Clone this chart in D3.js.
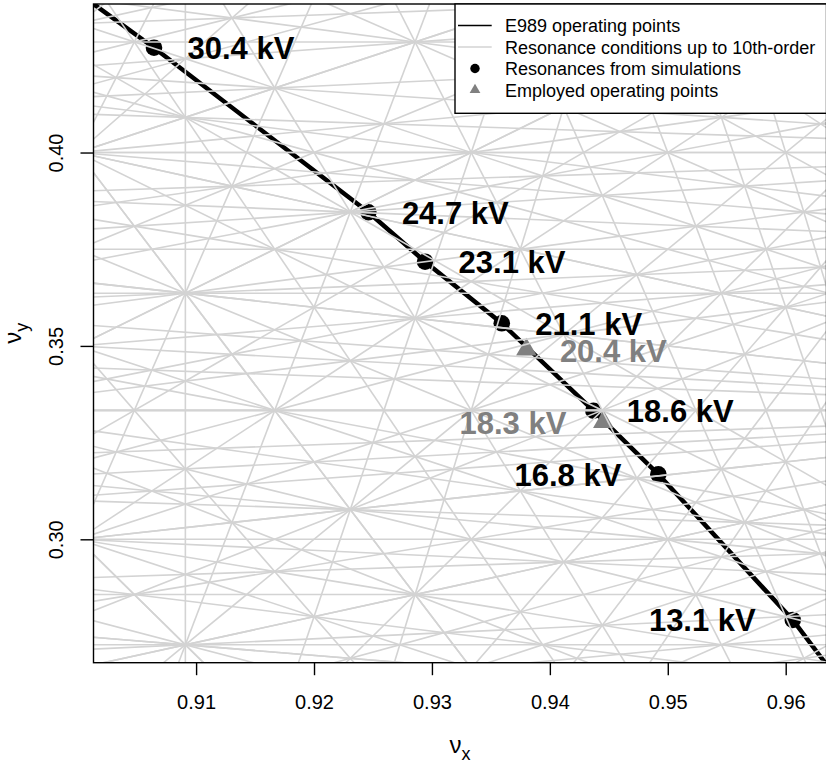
<!DOCTYPE html>
<html>
<head>
<meta charset="utf-8" />
<title>E989 tune diagram</title>
<script src="https://d3js.org/d3.v7.min.js"></script>
<style>
  body { margin: 0; background: #fff; }
  svg { display: block; font-family: "Liberation Sans", Arial, Helvetica, sans-serif; }
</style>
</head>
<body>
<div id="holder"></div>
<script>
// Data
// operating line (nu_x, nu_y)
const lineNx = [0.90130, 0.90643, 0.92461, 0.92942, 0.93592, 0.94369, 0.94920, 0.96060, 0.96334];
const lineNy = [0.43840, 0.42710, 0.38454, 0.37177, 0.35585, 0.33325, 0.31681, 0.27914, 0.26810];

// resonances from simulations
const simKV = ["30.4", "24.7", "23.1", "21.1", "18.6", "16.8", "13.1"];
const simNx = [0.90643, 0.92461, 0.92942, 0.93592, 0.94369, 0.94920, 0.96060];
const simNy = [0.42710, 0.38454, 0.37177, 0.35585, 0.33325, 0.31681, 0.27914];

// employed operating points
const opKV = ["20.4", "18.3"];
const opNx = [0.93801, 0.94454];
const opNy = [0.34879, 0.33007];

// resonance lines m*nx + n*ny = p, |m|+|n| up to this
const maxResSum = 11;

const xTicks = [0.91, 0.92, 0.93, 0.94, 0.95, 0.96];
const yTicks = [0.30, 0.35, 0.40];

const legendLabels = ["E989 operating points", "Resonance conditions up to 10th-order",
                      "Resonances from simulations", "Employed operating points"];

//Variables
const w = 826, h = 763;
const pLeft = 93.5, pRight = 826.5, pTop = 4, pBottom = 662.7;
const black = "#000", light = "#d3d3d3", grey = "#808080";

const svg = d3.select("#holder").append("svg")
  .attr("width", w).attr("height", h);

//Scales
const xScale = d3.scaleLinear().domain([0.90130, 0.96346]).range([pLeft, pRight]);
const yScale = d3.scaleLinear().domain([0.26810, 0.43840]).range([pBottom, pTop]);
const xd = xScale.domain(), yd = yScale.domain();

svg.append("clipPath").attr("id", "plotclip")
  .append("rect")
  .attr("x", pLeft).attr("y", pTop)
  .attr("width", pRight - pLeft).attr("height", pBottom - pTop);

const plot = svg.append("g").attr("clip-path", "url(#plotclip)");

//Operating line
const opLine = d3.line()
  .x(d => xScale(d[0]))
  .y(d => yScale(d[1]));
plot.append("path")
  .datum(lineNx.map((v, i) => [v, lineNy[i]]))
  .attr("d", opLine)
  .attr("fill", "none")
  .attr("stroke", black)
  .attr("stroke-width", 4.5);

//Simulated resonances
plot.selectAll("circle.sim")
  .data(simNx.map((v, i) => ({ x: v, y: simNy[i] })))
  .enter().append("circle")
  .attr("class", "sim")
  .attr("cx", d => xScale(d.x))
  .attr("cy", d => yScale(d.y))
  .attr("r", 8.3)
  .attr("fill", black);

//Employed points (filled triangles)
const tri = d3.symbol().type(d3.symbolTriangle).size(185);
plot.selectAll("path.op")
  .data(opNx.map((v, i) => ({ x: v, y: opNy[i] })))
  .enter().append("path")
  .attr("class", "op")
  .attr("d", tri)
  .attr("transform", d => "translate(" + xScale(d.x) + "," + (yScale(d.y) - 1) + ")")
  .attr("fill", grey);

//Resonance lines over the marks
const res = [];
for (let m = -maxResSum; m <= maxResSum; m++) {
  for (let n = 0; n <= maxResSum; n++) {
    if (Math.abs(m) + n > maxResSum || (m === 0 && n === 0)) continue;
    if (n === 0 && m < 0) continue;
    const corners = [m * xd[0] + n * yd[0], m * xd[0] + n * yd[1],
                     m * xd[1] + n * yd[0], m * xd[1] + n * yd[1]];
    const pLo = Math.ceil(d3.min(corners)), pHi = Math.floor(d3.max(corners));
    for (let p = pLo; p <= pHi; p++) res.push({ m: m, n: n, p: p });
  }
}
const pad = 0.02;
plot.selectAll("line.res")
  .data(res)
  .enter().append("line")
  .attr("class", "res")
  .attr("x1", d => d.n === 0 ? xScale(d.p / d.m) : xScale(xd[0] - pad))
  .attr("x2", d => d.n === 0 ? xScale(d.p / d.m) : xScale(xd[1] + pad))
  .attr("y1", d => d.n === 0 ? yScale(yd[0] - pad) : yScale((d.p - d.m * (xd[0] - pad)) / d.n))
  .attr("y2", d => d.n === 0 ? yScale(yd[1] + pad) : yScale((d.p - d.m * (xd[1] + pad)) / d.n))
  .attr("stroke", light)
  .attr("stroke-width", 1.6);

//Labels
const simSide = [1, 1, 1, 1, 1, -1, -1];
const opSide = [1, -1];
function addLabels(kv, nx, ny, side, col) {
  plot.selectAll(null)
    .data(kv)
    .enter().append("text")
    .attr("x", (d, i) => xScale(nx[i]) + (side[i] > 0 ? 33.5 : -37))
    .attr("y", (d, i) => yScale(ny[i]) + 11.3)
    .attr("text-anchor", (d, i) => side[i] > 0 ? "start" : "end")
    .attr("font-size", 31)
    .attr("font-weight", "bold")
    .attr("fill", col)
    .text(d => d + " kV");
}
addLabels(simKV, simNx, simNy, simSide, black);
addLabels(opKV, opNx, opNy, opSide, grey);

//Box
svg.append("rect")
  .attr("x", pLeft).attr("y", pTop)
  .attr("width", pRight - pLeft).attr("height", pBottom - pTop)
  .attr("fill", "none").attr("stroke", black).attr("stroke-width", 1.4);

//Axes
const xAxis = d3.axisBottom(xScale).tickValues(xTicks).tickFormat(d3.format(".2f")).tickSize(12.5);
const gx = svg.append("g")
  .attr("transform", "translate(0," + pBottom + ")")
  .call(xAxis);
gx.select(".domain").remove();
gx.selectAll("line").attr("stroke", black).attr("stroke-width", 1.4);
gx.selectAll("text")
  .attr("y", 46.6).attr("dy", null)
  .attr("font-size", 20).attr("fill", black);
gx.attr("font-family", null);

const yAxis = d3.axisLeft(yScale).tickValues(yTicks).tickFormat(d3.format(".2f")).tickSize(13);
const gy = svg.append("g")
  .attr("transform", "translate(" + pLeft + ",0)")
  .call(yAxis);
gy.select(".domain").remove();
gy.selectAll("line").attr("stroke", black).attr("stroke-width", 1.4);
gy.selectAll("text")
  .attr("x", null).attr("dy", null)
  .attr("transform", "translate(-30.5,0) rotate(-90)")
  .attr("text-anchor", "middle")
  .attr("font-size", 20).attr("fill", black);
gy.attr("font-family", null);

//Axis titles
const xt = svg.append("text")
  .attr("x", (pLeft + pRight) / 2).attr("y", 753)
  .attr("text-anchor", "middle")
  .attr("font-size", 24);
xt.append("tspan").text("ν");
xt.append("tspan").attr("font-size", 18).attr("dy", 7).text("x");

const yt = svg.append("text")
  .attr("transform", "translate(21," + ((pTop + pBottom) / 2) + ") rotate(-90)")
  .attr("text-anchor", "middle")
  .attr("font-size", 24);
yt.append("tspan").text("ν");
yt.append("tspan").attr("font-size", 18).attr("dy", 7).text("y");

//Legend
const lg = svg.append("g");
lg.append("rect")
  .attr("x", 455).attr("y", pTop)
  .attr("width", pRight - 455).attr("height", 113.3 - pTop)
  .attr("fill", "#fff").attr("stroke", black).attr("stroke-width", 1.4);
const rowY = [25.5, 47, 68.5, 90];
lg.append("line").attr("x1", 458).attr("x2", 491.7).attr("y1", rowY[0]).attr("y2", rowY[0])
  .attr("stroke", black).attr("stroke-width", 1.6);
lg.append("line").attr("x1", 458).attr("x2", 491.7).attr("y1", rowY[1]).attr("y2", rowY[1])
  .attr("stroke", light).attr("stroke-width", 1.6);
lg.append("circle").attr("cx", 475).attr("cy", rowY[2]).attr("r", 4.7).attr("fill", black);
lg.append("path").attr("d", d3.symbol().type(d3.symbolTriangle).size(50))
  .attr("transform", "translate(475," + rowY[3] + ")").attr("fill", grey);
lg.selectAll("text.leg")
  .data(legendLabels)
  .enter().append("text")
  .attr("class", "leg")
  .attr("x", 505)
  .attr("y", (d, i) => rowY[i] + 6.5)
  .attr("font-size", 18)
  .attr("fill", black)
  .text(d => d);
</script>
</body>
</html>
